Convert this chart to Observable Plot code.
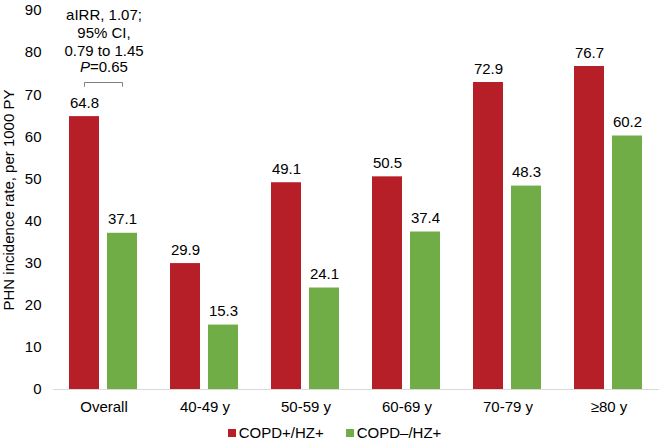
<!DOCTYPE html>
<html>
<head>
<meta charset="utf-8">
<script src="https://cdn.jsdelivr.net/npm/d3@7"></script>
<script src="https://cdn.jsdelivr.net/npm/@observablehq/plot@0.6"></script>
<style>
  body { margin: 0; background: #fff; font-family: "Liberation Sans", Arial, sans-serif; }
  #chart { width: 665px; }
  .legend { display: flex; justify-content: center; gap: 22px; font-size: 15px; line-height: 18px; color: #000; margin-top: 6px; padding-left: 4px; }
  .legend span.sw { display: inline-block; width: 8px; height: 8px; margin-right: 3px; vertical-align: 1px; }
</style>
</head>
<body>
<div id="chart"></div>
<script>
const groups = ["Overall", "40-49 y", "50-59 y", "60-69 y", "70-79 y", "≥80 y"];
const series = ["COPD+/HZ+", "COPD–/HZ+"];
const copdPos = [64.8, 29.9, 49.1, 50.5, 72.9, 76.7];
const copdNeg = [37.1, 15.3, 24.1, 37.4, 48.3, 60.2];
const colors = ["#B71F28", "#70AD47"];
const yTicks = [0, 10, 20, 30, 40, 50, 60, 70, 80, 90];
const annotationLines = ["aIRR, 1.07;", "95% CI,", "0.79 to 1.45"];
const annotationP = ["P", "=0.65"];
const bracketTop = 72.9, bracketBottom = 72.0;

const data = [];
groups.forEach((g, i) => {
  data.push({group: g, series: series[0], value: copdPos[i]});
  data.push({group: g, series: series[1], value: copdNeg[i]});
});
const bracket = [
  {group: groups[0], series: series[0], y: bracketBottom},
  {group: groups[0], series: series[0], y: bracketTop},
  {group: groups[0], series: series[1], y: bracketTop},
  {group: groups[0], series: series[1], y: bracketBottom}
];

const chart = Plot.plot({
  width: 665,
  height: 418,
  marginLeft: 52,
  marginRight: 5,
  marginTop: 10,
  marginBottom: 29,
  style: {fontFamily: "'Liberation Sans', Arial, sans-serif", fontSize: "15px", color: "#000"},
  fx: {domain: groups, padding: 0, axis: "bottom", tickSize: 0, tickPadding: 12, label: null},
  x: {domain: series, axis: null, paddingInner: 0.2, paddingOuter: 0.42},
  y: {domain: [0, 90], ticks: yTicks, tickSize: 0, tickPadding: 12,
      label: "PHN incidence rate, per 1000 PY", labelAnchor: "center", labelOffset: 50, labelArrow: "none"},
  color: {domain: series, range: colors},
  marks: [
    Plot.ruleY([0], {stroke: "#d9d9d9", strokeWidth: 1}),
    Plot.barY(data, {fx: "group", x: "series", y: "value", fill: "series"}),
    Plot.text(data, {fx: "group", x: "series", y: "value", text: d => d.value.toFixed(1),
      lineAnchor: "bottom", dy: -9, fontSize: 15, fill: "#000"}),
    Plot.line(bracket, {fx: "group", x: "series", y: "y", stroke: "#7f7f7f", strokeWidth: 1}),
    Plot.text([annotationLines.join("\n")], {fx: [groups[0]], frameAnchor: "top", lineAnchor: "top",
      dy: -3, lineHeight: 1.2, fontSize: 15, fill: "#000"}),
    Plot.text([annotationP[0]], {fx: [groups[0]], frameAnchor: "top", lineAnchor: "top",
      dy: 51, dx: -14, textAnchor: "end", fontStyle: "italic", fontSize: 15, fill: "#000"}),
    Plot.text([annotationP[1]], {fx: [groups[0]], frameAnchor: "top", lineAnchor: "top",
      dy: 51, dx: -14, textAnchor: "start", fontSize: 15, fill: "#000"})
  ]
});
document.getElementById("chart").appendChild(chart);

const legend = document.createElement("div");
legend.className = "legend";
series.forEach((s, i) => {
  const item = document.createElement("div");
  const sw = document.createElement("span");
  sw.className = "sw";
  sw.style.background = colors[i];
  item.appendChild(sw);
  item.appendChild(document.createTextNode(s));
  legend.appendChild(item);
});
document.getElementById("chart").appendChild(legend);
</script>
</body>
</html>
